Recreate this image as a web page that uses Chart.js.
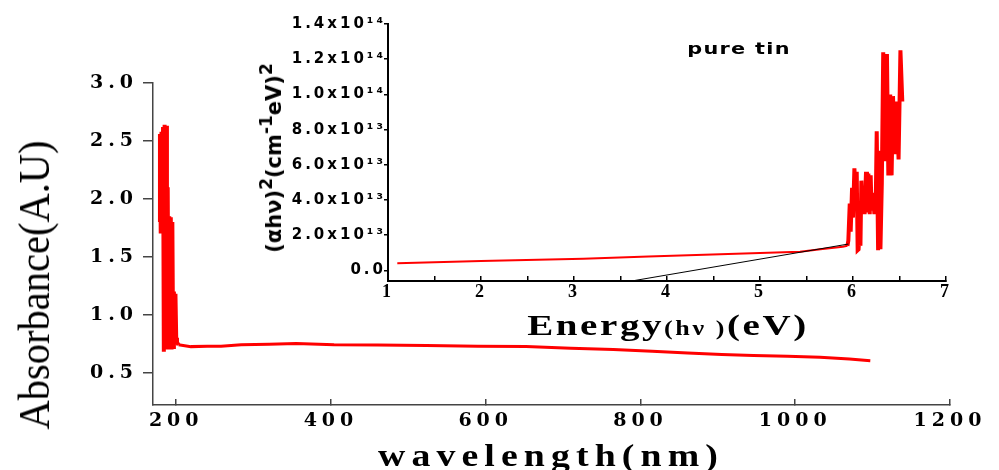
<!DOCTYPE html>
<html>
<head>
<meta charset="utf-8">
<script src="https://cdn.jsdelivr.net/npm/chart.js@4.4.1/dist/chart.umd.min.js"></script>
<style>
  html, body { margin: 0; padding: 0; background: #fff; }
  #wrap { position: relative; width: 999px; height: 470px; overflow: hidden; }
  #wrap canvas { position: absolute; left: 0; top: 0; }
  .lbl { position: absolute; white-space: nowrap; color: #000; line-height: 1; }
  #yTitle { left: 34px; top: 285px; font: 45px "Liberation Serif", serif;
            transform: translate(-50%, -50%) rotate(-90deg) scaleX(0.9); }
  #xTitle { left: 551px; top: 456px; font: bold 31px "Liberation Serif", serif; letter-spacing: 5px;
            transform: translate(-50%, -50%) scaleX(1.22); }
  #insetYTitle { left: 274px; top: 158px; font: bold 21px "DejaVu Sans", sans-serif;
                 transform: translate(-50%, -50%) rotate(-90deg); }
  #insetYTitle .sup { font-size: 17px; position: relative; top: -9px; }
  #insetXTitle { left: 668px; top: 325px; font: bold 30px "Liberation Serif", serif; letter-spacing: 2px;
                 transform: translate(-50%, -50%) scaleX(1.3); }
  #insetXTitle .small { font-size: 20px; }
  #note { left: 739px; top: 48px; font: bold 16px "DejaVu Sans", sans-serif; letter-spacing: 1px;
          transform: translate(-50%, -50%) scaleX(1.3); }
</style>
</head>
<body>
<div id="wrap">
  <canvas id="mainChart" width="999" height="470"></canvas>
  <canvas id="insetChart" width="999" height="470"></canvas>
  <div class="lbl" id="yTitle">Absorbance(A.U)</div>
  <div class="lbl" id="xTitle">wavelength(nm)</div>
  <div class="lbl" id="insetYTitle">(αhν)<span class="sup">2</span>(cm<span class="sup">-1</span>eV)<span class="sup">2</span></div>
  <div class="lbl" id="insetXTitle">Energy<span class="small">(hν )</span>(eV)</div>
  <div class="lbl" id="note">pure tin</div>
</div>
<script>
// spettro di assorbimento (grafico principale)
const wavelength = [178.5, 179, 180, 181, 182, 183, 184, 185, 186, 187, 188, 189, 190, 191, 192, 193,
                    194, 195, 196, 197, 198, 199, 200, 201, 203, 219, 240, 258, 284, 320, 355, 404,
                    460, 523, 590, 652, 710, 765, 815, 861, 905, 946, 990, 1032, 1070, 1097];
const absorbance = [1.8, 2.56, 1.7, 2.58, 2.0, 2.62, 0.68, 2.64, 0.7, 2.63, 1.0, 2.1, 0.7, 1.85, 0.72, 1.84,
                    0.7, 1.8, 0.72, 1.2, 0.75, 1.18, 0.8, 0.76, 0.74, 0.724, 0.728, 0.727, 0.741, 0.745, 0.75, 0.74,
                    0.737, 0.733, 0.728, 0.724, 0.71, 0.70, 0.685, 0.67, 0.657, 0.647, 0.64, 0.632, 0.617, 0.603];
const mainXTicks = [200, 400, 600, 800, 1000, 1200];
const mainXTickLabels = ['200', '400', '600', '800', '1000', '1200'];
const mainYTicks = [0.5, 1.0, 1.5, 2.0, 2.5, 3.0];
const mainYTickLabels = ['0.5', '1.0', '1.5', '2.0', '2.5', '3.0'];

// Tauc plot (inserto)
const energy = [1.1, 2.0, 3.1, 3.8, 5.43, 5.65, 5.89, 5.94, 5.95, 5.965, 5.975, 5.99, 6.0, 6.015, 6.03, 6.04,
                6.05, 6.06, 6.07, 6.08, 6.09, 6.10, 6.11, 6.125, 6.14, 6.15, 6.165, 6.18, 6.19, 6.20, 6.215,
                6.23, 6.245, 6.255, 6.27, 6.28, 6.295, 6.31, 6.325, 6.34, 6.365, 6.38, 6.40, 6.415, 6.43,
                6.45, 6.47, 6.49, 6.51, 6.53];
const ahv2 = [4.1e12, 5.3e12, 6.7e12, 7.9e12, 1.06e13, 1.2e13, 1.35e13, 1.4e13, 1.7e13, 3.8e13, 2.2e13, 4.7e13,
              3.0e13, 5.8e13, 4.2e13, 5.6e13, 1.15e13, 1.2e13, 2.2e13, 1.4e13, 5.1e13, 3.3e13, 4.6e13, 3.2e13,
              5.6e13, 3.3e13, 5.5e13, 3.2e13, 5.4e13, 3.4e13, 4.4e13, 3.2e13, 4.0e13, 7.9e13, 1.15e13, 6.8e13,
              1.2e13, 5.0e13, 1.24e14, 6.2e13, 1.23e14, 5.4e13, 1.0e14, 5.4e13, 9.9e13, 6.6e13, 9.6e13, 6.3e13,
              1.25e14, 9.6e13];
const tangentEnergy = [3.62, 5.95];
const tangentAhv2 = [-6e12, 1.5e13];
const insetXTicks = [1, 1.5, 2, 2.5, 3, 3.5, 4, 4.5, 5, 5.5, 6, 6.5, 7];
const insetXTickLabels = ['1', '', '2', '', '3', '', '4', '', '5', '', '6', '', '7'];
const insetYTicks = [0, 2e13, 4e13, 6e13, 8e13, 1e14, 1.2e14, 1.4e14];
const insetYTickLabels = ['0.0', '2.0x10¹³', '4.0x10¹³', '6.0x10¹³', '8.0x10¹³', '1.0x10¹⁴', '1.2x10¹⁴', '1.4x10¹⁴'];

const zip = (xs, ys) => xs.map((x, i) => ({ x: x, y: ys[i] }));

// spaziatura lettere per le etichette degli assi
const spacingPlugin = {
    id: 'spacing',
    beforeDraw(chart, args, opts) {
        chart.ctx.letterSpacing = opts.value || '0px';
    }
};

function fixedTicks(values) {
    return scale => { scale.ticks = values.map(v => ({ value: v })); };
}

new Chart(document.getElementById('mainChart'), {
    type: 'line',
    data: {
        datasets: [{
            data: zip(wavelength, absorbance),
            borderColor: '#ff0000',
            borderWidth: 3,
            segment: { borderWidth: c => (c.p0.parsed.x < 203 ? 4 : 3) },
            pointRadius: 0,
            tension: 0,
            fill: false
        }]
    },
    options: {
        responsive: false,
        animation: false,
        layout: { autoPadding: false, padding: { left: 0, top: 83, right: 49, bottom: 0 } },
        plugins: { legend: { display: false }, tooltip: { enabled: false }, spacing: { value: '5px' } },
        scales: {
            x: {
                type: 'linear', min: 170, max: 1200,
                afterBuildTicks: fixedTicks(mainXTicks),
                afterFit: s => { s.height = 65; },
                grid: { display: true, drawOnChartArea: false, drawTicks: true, tickLength: -6, color: '#444', lineWidth: 1.5 },
                border: { display: true, color: '#444', width: 1.5 },
                ticks: {
                    autoSkip: false, maxRotation: 0, padding: 11, color: '#000',
                    font: { family: 'DejaVu Serif', size: 19, weight: 'bold' },
                    callback: (v, i) => mainXTickLabels[i]
                }
            },
            y: {
                min: 0.22, max: 3.0,
                afterBuildTicks: fixedTicks(mainYTicks),
                afterFit: s => { s.width = 153; },
                grid: { display: true, drawOnChartArea: false, drawTicks: true, tickLength: 10, color: '#444', lineWidth: 1.5 },
                border: { display: true, color: '#444', width: 1.5 },
                ticks: {
                    padding: 5, color: '#000',
                    font: { family: 'DejaVu Serif', size: 19, weight: 'bold' },
                    callback: (v, i) => mainYTickLabels[i]
                }
            }
        }
    },
    plugins: [spacingPlugin]
});

new Chart(document.getElementById('insetChart'), {
    type: 'line',
    data: {
        datasets: [{
            data: zip(tangentEnergy, tangentAhv2),
            borderColor: '#000',
            borderWidth: 1,
            pointRadius: 0,
            tension: 0,
            fill: false
        }, {
            data: zip(energy, ahv2),
            borderColor: '#ff0000',
            borderWidth: 2,
            segment: { borderWidth: c => (c.p0.parsed.x >= 5.94 ? 4 : 2) },
            pointRadius: 0,
            tension: 0,
            fill: false
        }]
    },
    options: {
        responsive: false,
        animation: false,
        layout: { autoPadding: false, padding: { left: 0, top: 24, right: 53, bottom: 149 } },
        plugins: { legend: { display: false }, tooltip: { enabled: false }, spacing: { value: '3px' } },
        scales: {
            x: {
                type: 'linear', min: 1, max: 7,
                afterBuildTicks: fixedTicks(insetXTicks),
                afterFit: s => { s.height = 40; },
                grid: { display: true, drawOnChartArea: false, drawTicks: true, tickLength: -5, color: '#000', lineWidth: 1.5 },
                border: { display: true, color: '#000', width: 2 },
                ticks: {
                    autoSkip: false, maxRotation: 0, padding: 6, color: '#000',
                    font: { family: 'Liberation Serif', size: 18, weight: 'bold' },
                    callback: (v, i) => insetXTickLabels[i]
                }
            },
            y: {
                min: -6e12, max: 1.4e14,
                afterBuildTicks: fixedTicks(insetYTicks),
                afterFit: s => { s.width = 388; },
                grid: { display: true, drawOnChartArea: false, drawTicks: true, tickLength: 4, color: '#000', lineWidth: 1.5 },
                border: { display: true, color: '#000', width: 2 },
                ticks: {
                    padding: -2, color: '#000',
                    font: { family: 'DejaVu Sans', size: 15, weight: 'bold' },
                    callback: (v, i) => insetYTickLabels[i]
                }
            }
        }
    },
    plugins: [spacingPlugin]
});
</script>
</body>
</html>
